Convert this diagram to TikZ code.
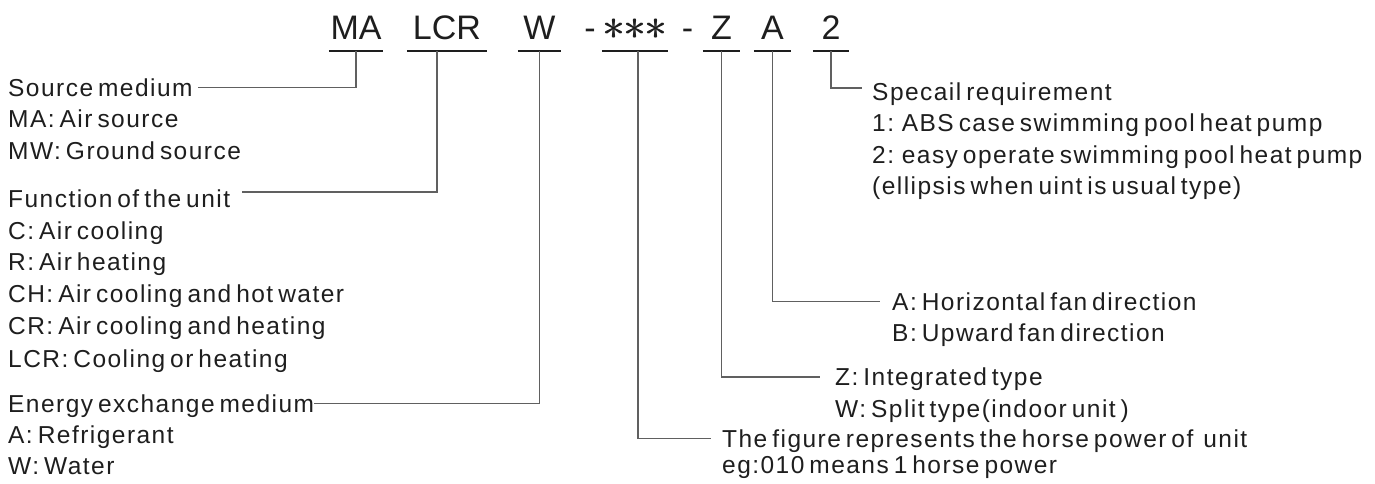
\documentclass[tikz,border=0pt]{standalone}
\usepackage{fix-cm}
\usepackage{fontspec}
\setmainfont{Liberation Sans}
\newfontfamily\lblfamily{Liberation Sans}[LetterSpace=6.0,WordSpace=0.6]
\newfontfamily\codefamily{Liberation Sans}
\definecolor{ink}{HTML}{1E1E1E}
\definecolor{wire}{HTML}{606060}
\newcommand\myast{\rlap{$\ast$}\kern0.7pt$\ast$}
\begin{document}
\begin{tikzpicture}[x=1pt,y=-1pt,
  code/.style={font=\codefamily\fontsize{34}{34}\selectfont, inner sep=0pt, text height=24pt, text depth=12pt, anchor=base, text=ink},
  astfont/.style={font=\codefamily\fontsize{44}{44}\selectfont},
  lbl/.style={font=\lblfamily\fontsize{24.5}{24.5}\selectfont, inner sep=0pt, text height=17pt, text depth=0pt, anchor=base west, text=ink},
  uline/.style={draw=ink, line width=2pt},
  conn/.style={draw=wire, line width=1.1pt},
]
\useasboundingbox (0,0) rectangle (1375,483);
% code
\node[code, minimum width=54pt] (ma) at (356,39) {MA};
\node[code, minimum width=80pt] (lcr) at (447,39) {LCR};
\node[code, minimum width=43pt] (w) at (539.5,39) {W};
\node[code] (d1) at (590,39) {-};
\node[code, astfont, minimum width=66pt] (ast) at (635,39) {\myast\kern-2pt\myast\kern-2pt\myast};
\node[code] (d2) at (687.5,39) {-};
\node[code, minimum width=37pt] (z) at (721.5,39) {Z};
\node[code, minimum width=37pt] (a) at (772.5,39) {A};
\node[code, minimum width=36pt] (two) at (831,39) {2};
\foreach \c in {ma,lcr,w,ast,z,a,two}
  \draw[uline] (\c.south west) -- (\c.south east);
% left labels
\node[lbl] (src) at (8,96) {Source medium};
\node[lbl] (src1) at (8,127.5) {MA: Air source};
\node[lbl] (src2) at (8,159) {MW: Ground source};
\node[lbl] (fun) at (8,207.5) {Function of the unit};
\node[lbl] (fun1) at (8,239) {C: Air cooling};
\node[lbl] (fun2) at (8,270.5) {R: Air heating};
\node[lbl] (fun3) at (8,302.5) {CH: Air cooling and hot water};
\node[lbl] (fun4) at (8,334.5) {CR: Air cooling and heating};
\node[lbl] (fun5) at (8,367) {LCR: Cooling or heating};
\node[lbl] (eng) at (8,412) {Energy exchange medium};
\node[lbl] (eng1) at (8,443) {A: Refrigerant};
\node[lbl] (eng2) at (8,474) {W: Water};
% right labels
\node[lbl] (spec) at (872,100) {Specail requirement};
\node[lbl] (spec1) at (872,131.5) {1: ABS case swimming pool heat pump};
\node[lbl] (spec2) at (872,163) {2: easy operate swimming pool heat pump};
\node[lbl] (spec3) at (872,194) {(ellipsis when uint is usual type)};
\node[lbl] (fan) at (892,310) {A: Horizontal fan direction};
\node[lbl] (fan1) at (892,341) {B: Upward fan direction};
\node[lbl] (typ) at (835,385.5) {Z: Integrated type};
\node[lbl] (typ1) at (835,417) {W: Split type(indoor unit )};
\node[lbl] (fig) at (722,447) {The figure represents the horse power of~~unit};
\node[lbl] (fig1) at (722,473) {eg:010 means 1 horse power};
% connectors
\draw[conn] (ma.south) |- ([xshift=5pt]src.east);
\draw[conn] ([xshift=-10pt]lcr.south) |- ([xshift=12pt,yshift=7pt]fun.east);
\draw[conn] (w.south) |- (eng.east);
\draw[conn] ([xshift=3pt]ast.south) |- ([xshift=-11pt]fig.west);
\draw[conn] (z.south) |- ([xshift=-15pt]typ.west);
\draw[conn] (a.south) |- ([xshift=-12pt]fan.west);
\draw[conn] (two.south) |- ([xshift=-10pt,yshift=3.5pt]spec.west);
\end{tikzpicture}
\end{document}
